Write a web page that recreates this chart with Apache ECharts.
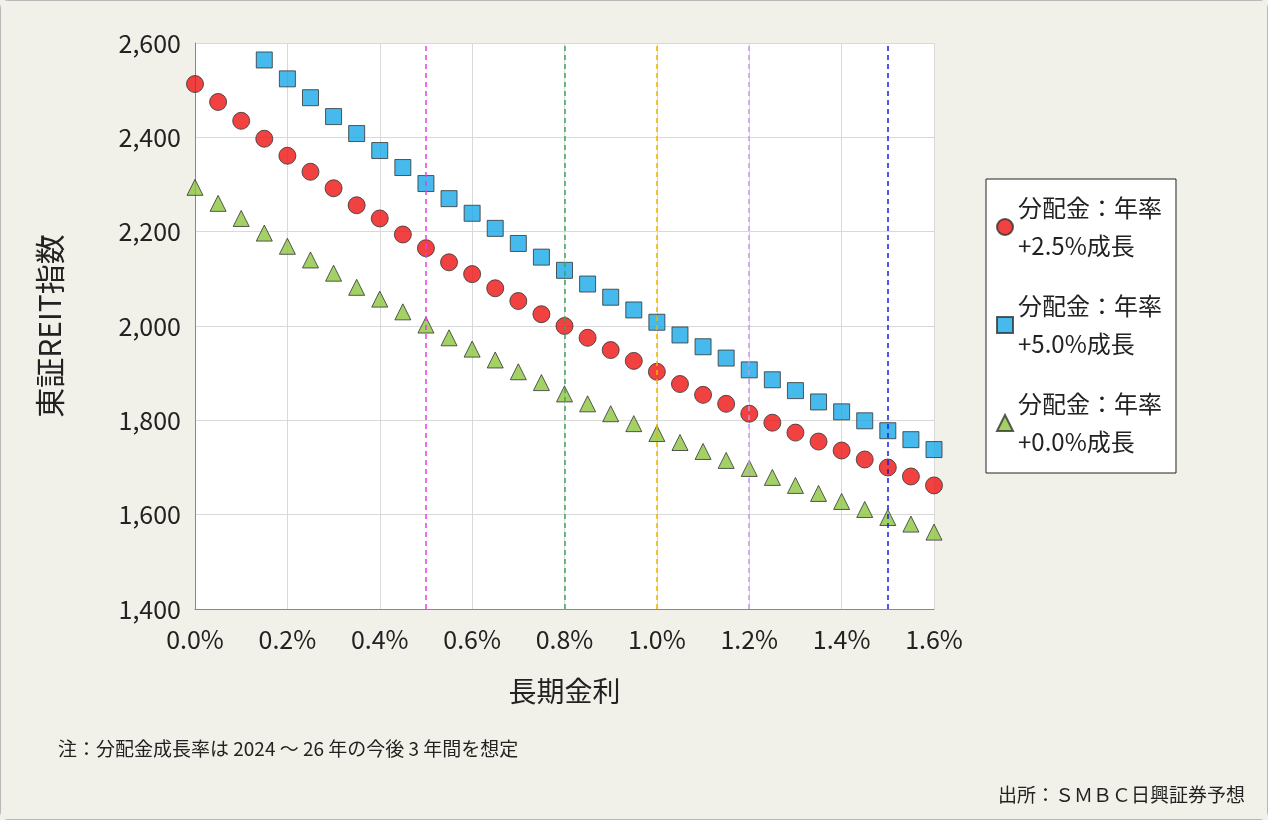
<!DOCTYPE html>
<html>
<head>
<meta charset="utf-8">
<script src="https://cdn.jsdelivr.net/npm/echarts@6/dist/echarts.min.js"></script>
<style>
  html, body { margin: 0; padding: 0; background: #f2f1e9; }
  #chart { width: 1268px; height: 820px; box-sizing: border-box; border: 1px solid #b8b8b8; border-radius: 8px; }
</style>
</head>
<body>
<div id="chart"></div>
<script>
// long-term rate (%), every 0.05
const rates = [];
for (let i = 0; i <= 32; i++) rates.push(Math.round(i * 5) / 100);

const red = [2513, 2475, 2435, 2397, 2361, 2327, 2292, 2256, 2228, 2194, 2165, 2135, 2110, 2080, 2053, 2025, 2000,
  1975, 1949, 1926, 1903, 1877, 1854, 1835, 1814, 1795, 1774, 1755, 1736, 1717, 1700, 1681, 1662];
// blue starts at 0.15%
const blue = [2564, 2524, 2484, 2444, 2408, 2372, 2336, 2302, 2270, 2239, 2207, 2175, 2146, 2118, 2089, 2061, 2034,
  2008, 1981, 1956, 1932, 1907, 1886, 1863, 1839, 1818, 1799, 1778, 1759, 1738];
const green = [2294, 2260, 2228, 2197, 2169, 2140, 2112, 2082, 2057, 2030, 2002, 1975, 1951, 1928, 1903, 1880, 1856,
  1835, 1814, 1793, 1772, 1753, 1734, 1715, 1698, 1679, 1662, 1645, 1628, 1611, 1594, 1580, 1563];

const vLines = [0.5, 0.8, 1.0, 1.2, 1.5];
const vColors = ["#e83ee8", "#3aa65a", "#f0b400", "#c59ae8", "#1a1ae0"];

const names = ["分配金：年率\n+2.5%成長", "分配金：年率\n+5.0%成長", "分配金：年率\n+0.0%成長"];

const font = "'Noto Sans CJK JP', 'Noto Sans', sans-serif";
const chart = echarts.init(document.getElementById("chart"));

const pair = (arr, start) => arr.map((v, i) => [rates[i + start], v]);

chart.setOption({
  backgroundColor: "#f2f1e9",
  textStyle: { fontFamily: font },
  animation: false,
  grid: { left: 194, right: 333, top: 42, bottom: 210, backgroundColor: "#fff", show: true, borderWidth: 0 },
  xAxis: {
    type: "value", min: 0, max: 1.6, interval: 0.2,
    name: "長期金利", nameLocation: "middle", nameGap: 68,
    nameTextStyle: { fontSize: 28, color: "#222", fontFamily: font },
    axisLine: { lineStyle: { color: "#888" } },
    axisTick: { show: false },
    axisLabel: { fontSize: 25, color: "#222", margin: 18, formatter: (v) => v.toFixed(1) + "%" },
    splitLine: { show: true, lineStyle: { color: "#d9d9d9" } }
  },
  yAxis: {
    type: "value", min: 1400, max: 2600, interval: 200,
    name: "東証REIT指数", nameLocation: "middle", nameGap: 130, nameRotate: 90,
    nameTextStyle: { fontSize: 30, color: "#222", fontFamily: font },
    axisLine: { show: true, lineStyle: { color: "#888" } },
    axisTick: { show: false },
    axisLabel: { fontSize: 25, color: "#222", margin: 14, formatter: (v) => v.toLocaleString("en-US") },
    splitLine: { show: true, lineStyle: { color: "#d9d9d9" } }
  },
  legend: {
    orient: "vertical", left: 985, top: 178, itemGap: 22,
    itemWidth: 16, itemHeight: 16,
    backgroundColor: "#fff", borderColor: "#222", borderWidth: 1,
    padding: [10, 14, 12, 10],
    textStyle: { fontSize: 24, color: "#222", lineHeight: 38, fontFamily: font },
    data: [
      { name: names[0], icon: "circle" },
      { name: names[1], icon: "rect" },
      { name: names[2], icon: "triangle" }
    ]
  },
  series: [
    {
      name: names[0], type: "scatter", symbol: "circle", symbolSize: 17, z: 3,
      itemStyle: { color: "#ee1111", borderColor: "#333", borderWidth: 1 },
      data: pair(red, 0)
    },
    {
      name: names[1], type: "scatter", symbol: "rect", symbolSize: 16, z: 3,
      itemStyle: { color: "#18a8e8", borderColor: "#333", borderWidth: 1 },
      data: pair(blue, 3),
      markLine: {
        silent: true, symbol: "none", label: { show: false },
        data: vLines.map((x, i) => ({ xAxis: x, lineStyle: { color: vColors[i], type: [5, 4], width: 1.5 } }))
      }
    },
    {
      name: names[2], type: "scatter", symbol: "triangle", symbolSize: 16, z: 3,
      itemStyle: { color: "#8cc63e", borderColor: "#333", borderWidth: 1 },
      data: pair(green, 0)
    }
  ],
  graphic: [
    { type: "text", left: 57, top: 738, style: { text: "注：分配金成長率は 2024 ～ 26 年の今後 3 年間を想定", fontSize: 19, fill: "#222", fontFamily: font } },
    { type: "text", right: 22, top: 784, style: { text: "出所：ＳＭＢＣ日興証券予想", fontSize: 19, fill: "#222", fontFamily: font } }
  ]
});
</script>
</body>
</html>
